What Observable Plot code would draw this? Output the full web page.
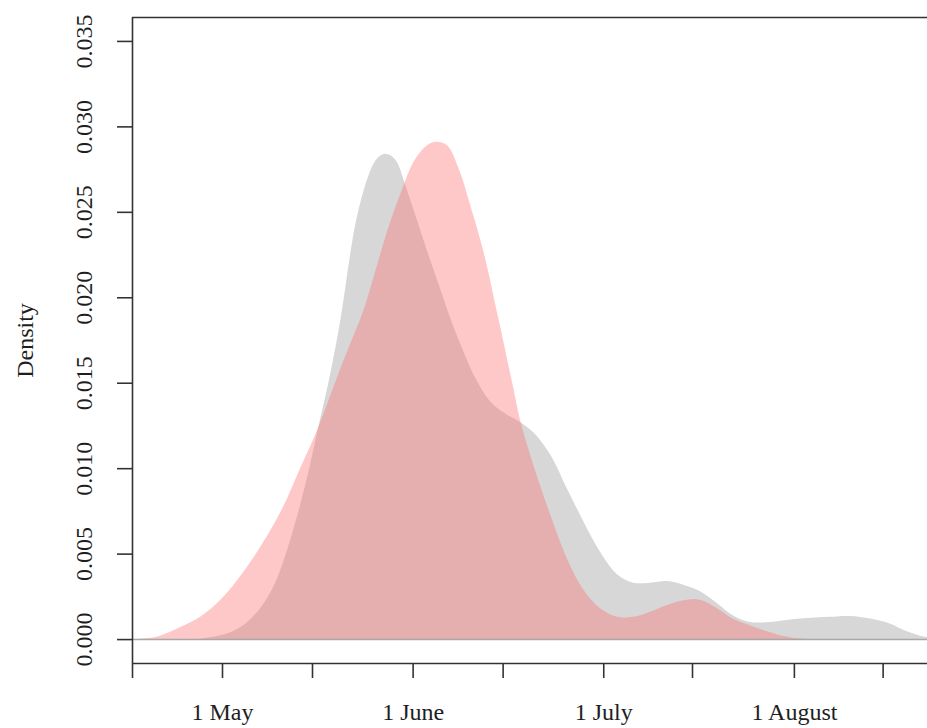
<!DOCTYPE html>
<html>
<head>
<meta charset="utf-8">
<script src="https://cdn.jsdelivr.net/npm/d3@7"></script>
<script src="https://cdn.jsdelivr.net/npm/@observablehq/plot@0.6"></script>
<style>
  html, body { margin: 0; padding: 0; background: #fff; }
  #chart { width: 927px; height: 728px; }
</style>
</head>
<body>
<div id="chart"></div>
<script>
// x values: days after 1 May (one month ≈ 30.5 days on this axis)
const greyDays = [-14.4, -4.0, -1.9, 1.3, 3.7, 6.1, 8.5, 10.9, 13.3, 15.4, 17.3, 18.9, 19.7, 20.5, 21.4, 22.7, 23.5, 24.2, 25.0, 26.0, 27.0, 28.0, 29.3, 31.2, 33.0, 34.9, 36.5, 38.1, 40.5, 42.9, 45.3, 47.2, 49.8, 52.5, 55.2, 57.8, 60.5, 63.2, 65.8, 68.5, 71.2, 73.7, 76.5, 79.2, 81.7, 84.5, 87.7, 92.5, 97.3, 100.5, 103.7, 106.9, 109.3, 111.7, 114.1];
const greyDensity = [0, 0, 0.0001, 0.0004, 0.0009, 0.0018, 0.0033, 0.0058, 0.0090, 0.0124, 0.0155, 0.0186, 0.0205, 0.0225, 0.0244, 0.0263, 0.0272, 0.0278, 0.0282, 0.0284, 0.0283, 0.0279, 0.0266, 0.0245, 0.0225, 0.0205, 0.0188, 0.0173, 0.0153, 0.0139, 0.0132, 0.0128, 0.0121, 0.0108, 0.0088, 0.0069, 0.0051, 0.0038, 0.0033, 0.0033, 0.0034, 0.0032, 0.0028, 0.0021, 0.0014, 0.0010, 0.0010, 0.0012, 0.0013, 0.00135, 0.0012, 0.0009, 0.0005, 0.0002, 0.00005];

const redDays = [-14.4, -12.3, -9.9, -6.7, -3.5, 0, 4.5, 9.3, 12.5, 15.4, 18.9, 21.3, 22.6, 23.7, 25.3, 26.9, 28.8, 30.6, 32.8, 34.2, 36.0, 38.1, 39.7, 41.3, 42.6, 43.7, 44.5, 45.6, 46.6, 47.7, 49.8, 52.5, 55.2, 57.8, 60.5, 63.2, 65.8, 68.5, 71.2, 74.4, 76.5, 79.2, 81.7, 84.5, 87.7, 90.9, 94.1, 112.8];
const redDensity = [0, 0.00005, 0.0002, 0.0007, 0.0013, 0.0024, 0.0045, 0.0074, 0.0100, 0.0124, 0.0158, 0.0180, 0.0192, 0.0205, 0.0225, 0.0244, 0.0263, 0.0279, 0.0289, 0.0291, 0.0289, 0.0273, 0.0254, 0.0234, 0.0215, 0.0196, 0.0183, 0.0164, 0.0147, 0.0128, 0.0102, 0.0073, 0.0047, 0.0029, 0.0018, 0.0013, 0.0013, 0.0016, 0.0020, 0.0023, 0.0023, 0.0018, 0.0012, 0.0008, 0.0004, 0.0001, 0, 0];

const majorTickDays = [0, 30.5, 61, 91.5];
const majorTickLabels = ["1 May", "1 June", "1 July", "1 August"];
const minorTickDays = [-14.4, 14.4, 44.9, 75.2, 105.7];
const yTickValues = [0, 0.005, 0.010, 0.015, 0.020, 0.025, 0.030, 0.035];
const yTitle = "Density";

const xDomain = [-14.4, 112.8];
const yDomain = [-0.0014, 0.0364];

const grey = greyDays.map((d, i) => ({day: d, density: greyDensity[i]}));
const red = redDays.map((d, i) => ({day: d, density: redDensity[i]}));

const font = "'Liberation Serif', 'DejaVu Serif', serif";
const ink = "#1e1e1e";
const axisInk = "#333";

const chart = Plot.plot({
  width: 927,
  height: 728,
  marginLeft: 132,
  marginRight: 0,
  marginTop: 17,
  marginBottom: 65,
  style: {fontFamily: font, background: "#fff", overflow: "visible"},
  x: {domain: xDomain, axis: null},
  y: {domain: yDomain, axis: null},
  marks: [
    Plot.areaY(grey, {x: "day", y: "density", fill: "#d7d7d7", curve: "catmull-rom", clip: true}),
    Plot.areaY(red, {x: "day", y: "density", fill: "rgb(255,105,105)", fillOpacity: 0.37, curve: "catmull-rom", clip: true}),
    Plot.ruleY([0], {stroke: "#a8a8a8", strokeWidth: 1.5}),
    // frame lines (top, left, bottom)
    Plot.ruleY([yDomain[1]], {stroke: axisInk, strokeWidth: 1.6}),
    Plot.ruleY([yDomain[0]], {stroke: axisInk, strokeWidth: 1.6}),
    Plot.ruleX([xDomain[0]], {stroke: axisInk, strokeWidth: 1.6}),
    // x ticks
    Plot.axisX(majorTickDays.concat(minorTickDays), {anchor: "bottom", tickSize: 15, tickFormat: () => "", label: null, stroke: axisInk, strokeWidth: 1.6}),
    Plot.text(majorTickDays, {x: d => d, text: (d, i) => majorTickLabels[i], frameAnchor: "bottom", lineAnchor: "middle", textAnchor: "middle", dy: 49, fontSize: 24, fill: ink}),
    // y ticks
    Plot.axisY(yTickValues, {anchor: "left", tickSize: 15, tickFormat: () => "", label: null, stroke: axisInk, strokeWidth: 1.6}),
    Plot.text(yTickValues, {y: d => d, text: d => d3.format(".3f")(d), frameAnchor: "left", textAnchor: "middle", lineAnchor: "middle", dx: -48, rotate: -90, fontSize: 24, fill: ink}),
    Plot.text([yTitle], {text: d => d, frameAnchor: "left", textAnchor: "middle", lineAnchor: "middle", dx: -107, rotate: -90, fontSize: 24, fill: ink})
  ]
});
document.getElementById("chart").appendChild(chart);
</script>
</body>
</html>
